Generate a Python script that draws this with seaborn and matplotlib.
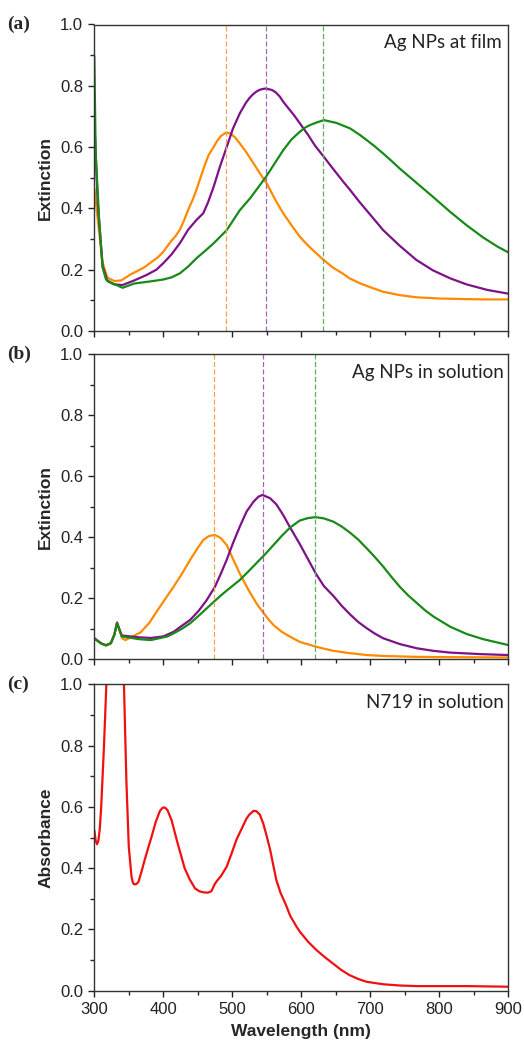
"""
Extinction / absorbance spectra of Ag NPs (film, solution) and N719 dye
"""
import numpy as np
import pandas as pd
import seaborn as sns
import matplotlib.pyplot as plt
from matplotlib.ticker import MultipleLocator

# ========== data ==========
# (a) Ag NPs at film
film_orange_wl = [300, 305, 312, 319, 329, 339, 353, 372, 392, 400, 412, 418, 424, 430, 437, 443, 448, 454,
                  460, 466, 473, 478, 484, 491, 497, 504, 511, 520, 530, 540, 550, 562, 574, 586, 598, 606,
                  615, 631, 646, 660, 670, 685, 700, 719, 743, 767, 800, 840, 870, 900]
film_orange_ext = [0.467, 0.364, 0.223, 0.174, 0.163, 0.165, 0.185, 0.207, 0.240, 0.258, 0.295, 0.310, 0.330,
                   0.360, 0.400, 0.430, 0.460, 0.500, 0.540, 0.575, 0.600, 0.620, 0.637, 0.647, 0.645, 0.632,
                   0.612, 0.585, 0.550, 0.515, 0.482, 0.430, 0.384, 0.345, 0.308, 0.288, 0.268, 0.235, 0.207,
                   0.188, 0.172, 0.156, 0.143, 0.128, 0.117, 0.110, 0.106, 0.104, 0.103, 0.103]

film_purple_wl = [300, 305, 312, 319, 329, 341, 358, 376, 390, 400, 412, 424, 436, 448, 458, 465, 473, 482,
                  492, 501, 511, 520, 525, 530, 535, 540, 545, 549, 553, 558, 563, 569, 574, 580, 590, 598,
                  610, 620, 633, 646, 660, 671, 685, 700, 719, 743, 767, 791, 816, 840, 870, 900]
film_purple_ext = [0.690, 0.418, 0.212, 0.163, 0.152, 0.150, 0.165, 0.183, 0.200, 0.221, 0.250, 0.286, 0.330,
                   0.362, 0.384, 0.420, 0.470, 0.535, 0.600, 0.660, 0.710, 0.745, 0.760, 0.772, 0.781, 0.787,
                   0.790, 0.791, 0.789, 0.786, 0.779, 0.765, 0.748, 0.731, 0.703, 0.678, 0.640, 0.605, 0.568,
                   0.530, 0.490, 0.460, 0.420, 0.380, 0.329, 0.278, 0.232, 0.198, 0.172, 0.152, 0.134, 0.122]

film_green_wl = [300, 302, 307, 312, 317, 324, 341, 358, 382, 400, 412, 424, 436, 448, 460, 473, 492, 511,
                 526, 549, 574, 586, 598, 606, 613, 622, 633, 651, 671, 685, 695, 707, 719, 731, 743, 755,
                 767, 791, 816, 840, 864, 885, 900]
film_green_ext = [0.897, 0.580, 0.364, 0.207, 0.168, 0.158, 0.141, 0.155, 0.162, 0.168, 0.175, 0.188, 0.210,
                  0.237, 0.260, 0.286, 0.329, 0.394, 0.433, 0.503, 0.590, 0.625, 0.650, 0.664, 0.672, 0.680,
                  0.688, 0.679, 0.661, 0.640, 0.623, 0.602, 0.579, 0.555, 0.530, 0.507, 0.484, 0.438, 0.389,
                  0.345, 0.305, 0.275, 0.257]
film_peaks = [491, 549, 632]

# (b) Ag NPs in solution
sol_orange_wl = [300, 310, 317, 324, 329, 333, 336, 340, 345, 353, 367, 380, 390, 402, 415, 427, 439, 450,
                 458, 466, 475, 483, 492, 501, 511, 523, 535, 544, 553, 560, 572, 584, 598, 622, 646, 671,
                 695, 719, 767, 820, 900]
sol_orange_ext = [0.067, 0.052, 0.045, 0.052, 0.080, 0.121, 0.100, 0.070, 0.063, 0.072, 0.088, 0.120, 0.155,
                  0.195, 0.238, 0.280, 0.326, 0.365, 0.391, 0.404, 0.408, 0.398, 0.375, 0.330, 0.281, 0.230,
                  0.184, 0.156, 0.130, 0.112, 0.090, 0.074, 0.057, 0.041, 0.028, 0.020, 0.014, 0.011, 0.008,
                  0.007, 0.006]

sol_purple_wl = [300, 310, 317, 324, 329, 333, 336, 340, 348, 365, 382, 400, 415, 427, 439, 451, 463, 475,
                 483, 492, 501, 511, 521, 531, 538, 544, 555, 564, 574, 584, 598, 610, 621, 633, 647, 659,
                 671, 683, 695, 707, 719, 743, 768, 791, 816, 860, 900]
sol_purple_ext = [0.069, 0.052, 0.046, 0.053, 0.080, 0.120, 0.100, 0.078, 0.076, 0.072, 0.070, 0.075, 0.090,
                  0.110, 0.129, 0.158, 0.194, 0.238, 0.278, 0.326, 0.380, 0.435, 0.485, 0.517, 0.533, 0.539,
                  0.528, 0.508, 0.473, 0.432, 0.378, 0.328, 0.282, 0.240, 0.207, 0.175, 0.147, 0.122, 0.102,
                  0.084, 0.069, 0.050, 0.036, 0.028, 0.022, 0.017, 0.014]

sol_green_wl = [300, 310, 317, 324, 329, 333, 336, 340, 348, 365, 382, 406, 415, 427, 439, 451, 463, 475,
                487, 499, 511, 523, 535, 548, 560, 572, 584, 598, 610, 621, 633, 647, 659, 671, 683, 695,
                707, 719, 731, 743, 755, 768, 780, 792, 816, 840, 864, 900]
sol_green_ext = [0.069, 0.052, 0.046, 0.053, 0.080, 0.118, 0.100, 0.075, 0.072, 0.066, 0.063, 0.075, 0.085,
                 0.100, 0.118, 0.142, 0.167, 0.192, 0.216, 0.238, 0.260, 0.287, 0.315, 0.345, 0.375, 0.405,
                 0.432, 0.455, 0.463, 0.466, 0.462, 0.451, 0.435, 0.415, 0.392, 0.364, 0.335, 0.304, 0.270,
                 0.238, 0.210, 0.184, 0.160, 0.140, 0.107, 0.083, 0.066, 0.047]
sol_peaks = [473, 544, 620]

# (c) N719 in solution
dye_wl = [300, 302, 304, 306, 308, 310, 314, 317.5, 322, 330, 338, 343, 346.5, 350, 354, 356, 358, 361, 364,
          368, 373, 378, 383, 389, 395, 399, 402, 406, 412, 421, 426, 431, 438, 446, 452, 458, 465, 470, 474,
          477, 484, 492, 499, 506, 514, 521, 525, 531, 535, 540, 545, 550, 555, 560, 564, 570, 574, 579,
          584, 593, 598, 610, 622, 634, 646, 658, 670, 683, 695, 719, 743, 767, 840, 900]
dye_abs = [0.524, 0.490, 0.478, 0.490, 0.530, 0.600, 0.796, 1.000, 1.300, 1.500, 1.300, 1.000, 0.687, 0.470,
           0.372, 0.352, 0.347, 0.348, 0.355, 0.385, 0.426, 0.465, 0.502, 0.550, 0.586, 0.597, 0.598, 0.590,
           0.557, 0.480, 0.440, 0.400, 0.365, 0.334, 0.325, 0.321, 0.320, 0.325, 0.345, 0.356, 0.375, 0.405,
           0.447, 0.492, 0.530, 0.563, 0.575, 0.587, 0.586, 0.575, 0.546, 0.505, 0.460, 0.405, 0.361, 0.320,
           0.300, 0.274, 0.245, 0.210, 0.193, 0.160, 0.133, 0.110, 0.089, 0.068, 0.051, 0.038, 0.029, 0.021,
           0.017, 0.015, 0.015, 0.013]

x_ticks = [300, 400, 500, 600, 700, 800, 900]

# ========== style ==========
ORANGE, PURPLE, GREEN, RED = "#ff8a00", "#7d1187", "#178a17", "#f01010"
DASH = ["#f5a24c", "#a467b4", "#5eb05e"]

sns.set_style("ticks")
plt.rcParams['font.family'] = ['Liberation Sans', 'DejaVu Sans']
plt.rcParams['axes.linewidth'] = 1.0
plt.rcParams['axes.edgecolor'] = '#333333'
plt.rcParams['lines.solid_joinstyle'] = 'round'

fig = plt.figure(figsize=(5.24, 10.42), dpi=100)
W, H = 524, 1042
left, right = 94.3, 508
panels = [(24.5, 331), (354.3, 659.3), (684.3, 990.7)]
axes = [fig.add_axes([left / W, 1 - b / H, (right - left) / W, (b - t) / H]) for t, b in panels]


def style_axis(ax, ylabel, show_x):
    ax.set_xlim(300, 900)
    ax.set_ylim(0, 1.0)
    ax.xaxis.set_major_locator(MultipleLocator(100))
    ax.xaxis.set_minor_locator(MultipleLocator(50))
    ax.yaxis.set_major_locator(MultipleLocator(0.2))
    ax.yaxis.set_minor_locator(MultipleLocator(0.1))
    ax.yaxis.set_major_formatter(plt.FuncFormatter(lambda v, _: f"{v:.1f}"))
    ax.tick_params(which='major', direction='out', length=4.5, width=1, labelsize=12, colors='#222222')
    ax.tick_params(which='minor', direction='out', length=3, width=1)
    for s in ax.spines.values():
        s.set_visible(True)
    ax.set_ylabel(ylabel, fontsize=12.5, fontweight='bold', labelpad=5)
    ax.set_xlabel("")
    if not show_x:
        ax.tick_params(axis='x', labelbottom=False)


# ========== (a) ==========
ax = axes[0]
for wl, ext, c in [(film_orange_wl, film_orange_ext, ORANGE),
                   (film_purple_wl, film_purple_ext, PURPLE),
                   (film_green_wl, film_green_ext, GREEN)]:
    sns.lineplot(x=wl, y=ext, ax=ax, color=c, linewidth=1.6)
for p, c in zip(film_peaks, DASH):
    ax.axvline(p, color=c, linestyle=(0, (4, 2)), linewidth=0.9)
style_axis(ax, "Extinction", False)
ax.text(0.985, 0.94, "Ag NPs at film", transform=ax.transAxes, ha='right', va='center',
        fontsize=13.5, family=['Lato', 'DejaVu Sans'], color='#222222')

# ========== (b) ==========
ax = axes[1]
for wl, ext, c in [(sol_orange_wl, sol_orange_ext, ORANGE),
                   (sol_purple_wl, sol_purple_ext, PURPLE),
                   (sol_green_wl, sol_green_ext, GREEN)]:
    sns.lineplot(x=wl, y=ext, ax=ax, color=c, linewidth=1.6)
for p, c in zip(sol_peaks, DASH):
    ax.axvline(p, color=c, linestyle=(0, (4, 2)), linewidth=0.9)
style_axis(ax, "Extinction", False)
ax.text(0.99, 0.94, "Ag NPs in solution", transform=ax.transAxes, ha='right', va='center',
        fontsize=13.5, family=['Lato', 'DejaVu Sans'], color='#222222')

# ========== (c) ==========
ax = axes[2]
sns.lineplot(x=dye_wl, y=dye_abs, ax=ax, color=RED, linewidth=1.6)
style_axis(ax, "Absorbance", True)
ax.set_xticks(x_ticks)
ax.set_xlabel("Wavelength (nm)", fontsize=12.5, fontweight='bold', labelpad=5)
ax.text(0.99, 0.94, "N719 in solution", transform=ax.transAxes, ha='right', va='center',
        fontsize=13.5, family=['Lato', 'DejaVu Sans'], color='#222222')

# panel letters
for lab, (t, b) in zip(["(a)", "(b)", "(c)"], panels):
    fig.text(7 / W, 1 - t / H, lab, ha='left', va='center', fontsize=14,
             fontweight='bold', family=['Liberation Serif', 'DejaVu Serif'])

fig.savefig("out.png", dpi=100)
